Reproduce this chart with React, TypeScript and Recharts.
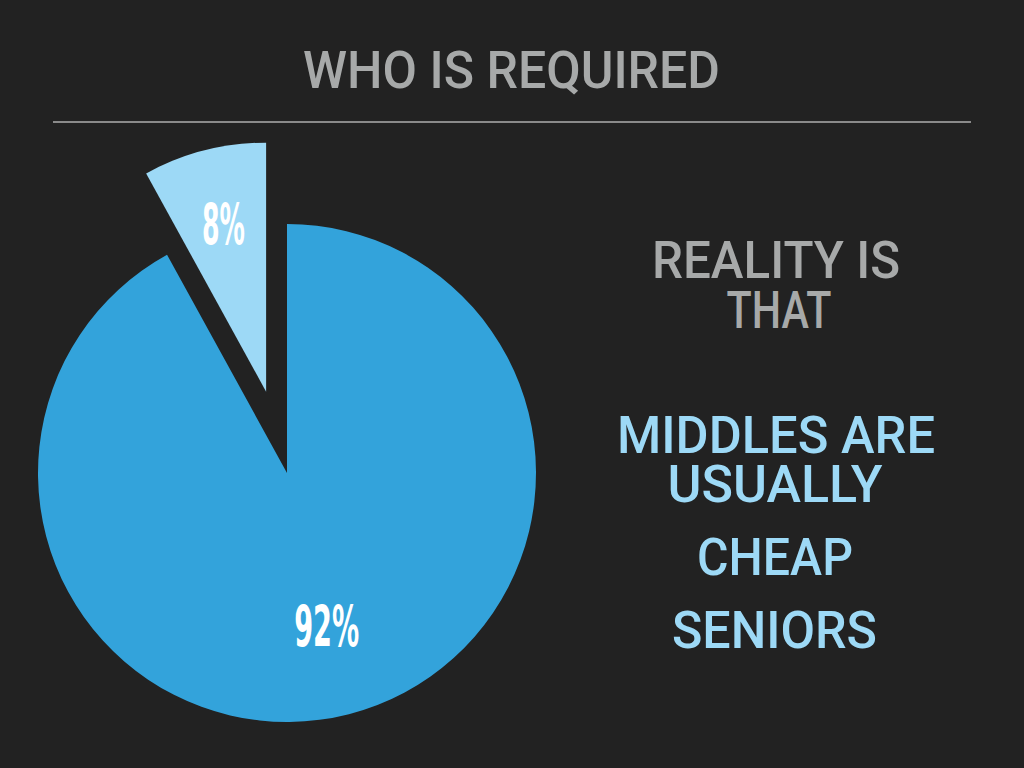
import { PieChart, Pie, Cell } from "recharts";

// share of people required, in percent
const groups = ["Everyone else", "Required"];
const shares = [92, 8];
const explodedIndex = 1;

const titleText = "WHO IS REQUIRED";
const introLines = ["REALITY IS", "THAT"];
const pointLines = ["MIDDLES ARE", "USUALLY", "CHEAP", "SENIORS"];

const BG = "#222222";
const BLUE = "#33a3db";
const LIGHT = "#9dd9f6";
const GRAY = "#a7a9a9";

const data = groups.map((name, i) => ({ name, value: shares[i] }));

const CX = 287;
const CY = 473;
const R = 249;
const EXPLODE = 84;

// centre of the pulled-out slice, moved along its mid angle
const total = shares.reduce((a, b) => a + b, 0);
const before = shares.slice(0, explodedIndex).reduce((a, b) => a + b, 0);
const midDeg = 90 - ((before + shares[explodedIndex] / 2) / total) * 360;
const midRad = (midDeg * Math.PI) / 180;
const exCx = CX + EXPLODE * Math.cos(midRad);
const exCy = CY - EXPLODE * Math.sin(midRad);

const RAD = Math.PI / 180;

function makeLabel(showIndex: number, factor: number, width: number) {
  return (props: any) => {
    const { cx, cy, midAngle, outerRadius, index, percent } = props;
    if (index !== showIndex) return null;
    const r = outerRadius * factor;
    const x = cx + r * Math.cos(-midAngle * RAD);
    const y = cy + r * Math.sin(-midAngle * RAD);
    const txt = `${Math.round(percent * 100)}%`;
    return (
      <text
        x={x}
        y={y + 20}
        fill="#ffffff"
        textAnchor="middle"
        fontFamily="DejaVu Sans Condensed, DejaVu Sans"
        fontWeight="bold"
        fontSize={57}
        textLength={width}
        lengthAdjust="spacingAndGlyphs"
      >
        {txt}
      </text>
    );
  };
}

const textStyle = {
  fontFamily: "Roboto, DejaVu Sans",
  fontWeight: 500,
  fontSize: 52,
};

export default function App() {
  return (
    <div
      style={{
        position: "fixed",
        top: 0,
        left: 0,
        width: 1024,
        height: 768,
        background: BG,
        overflow: "hidden",
      }}
    >
      <PieChart width={1024} height={768} margin={{ top: 0, right: 0, bottom: 0, left: 0 }}>
        <Pie
          data={data}
          dataKey="value"
          cx={CX}
          cy={CY}
          outerRadius={R}
          startAngle={90}
          endAngle={-270}
          stroke="none"
          labelLine={false}
          label={makeLabel(0, 0.64, 65)}
          isAnimationActive={false}
        >
          {data.map((d, i) => (
            <Cell key={d.name} fill={i === explodedIndex ? "none" : BLUE} />
          ))}
        </Pie>
        <Pie
          data={data}
          dataKey="value"
          cx={exCx}
          cy={exCy}
          outerRadius={R}
          startAngle={90}
          endAngle={-270}
          stroke="none"
          labelLine={false}
          label={makeLabel(explodedIndex, 0.69, 43)}
          isAnimationActive={false}
        >
          {data.map((d, i) => (
            <Cell key={d.name} fill={i === explodedIndex ? LIGHT : "none"} />
          ))}
        </Pie>
      </PieChart>

      <svg
        width={1024}
        height={768}
        style={{ position: "absolute", top: 0, left: 0, pointerEvents: "none" }}
      >
        <text x={511.5} y={88} fill={GRAY} textAnchor="middle" textLength={417} lengthAdjust="spacingAndGlyphs" style={textStyle}>
          {titleText}
        </text>
        <line x1={53} x2={971} y1={122} y2={122} stroke="#8a8a8a" strokeWidth={2} />
        <text x={776} y={278} fill={GRAY} textAnchor="middle" textLength={248} lengthAdjust="spacingAndGlyphs" style={textStyle}>
          {introLines[0]}
        </text>
        <text x={779} y={328} fill={GRAY} textAnchor="middle" textLength={105} lengthAdjust="spacingAndGlyphs" style={textStyle}>
          {introLines[1]}
        </text>
        <text x={776} y={453} fill={LIGHT} textAnchor="middle" textLength={318} lengthAdjust="spacingAndGlyphs" style={textStyle}>
          {pointLines[0]}
        </text>
        <text x={775} y={502} fill={LIGHT} textAnchor="middle" textLength={215} lengthAdjust="spacingAndGlyphs" style={textStyle}>
          {pointLines[1]}
        </text>
        <text x={775} y={575} fill={LIGHT} textAnchor="middle" textLength={156} lengthAdjust="spacingAndGlyphs" style={textStyle}>
          {pointLines[2]}
        </text>
        <text x={774.5} y={648} fill={LIGHT} textAnchor="middle" textLength={205} lengthAdjust="spacingAndGlyphs" style={textStyle}>
          {pointLines[3]}
        </text>
      </svg>
    </div>
  );
}
